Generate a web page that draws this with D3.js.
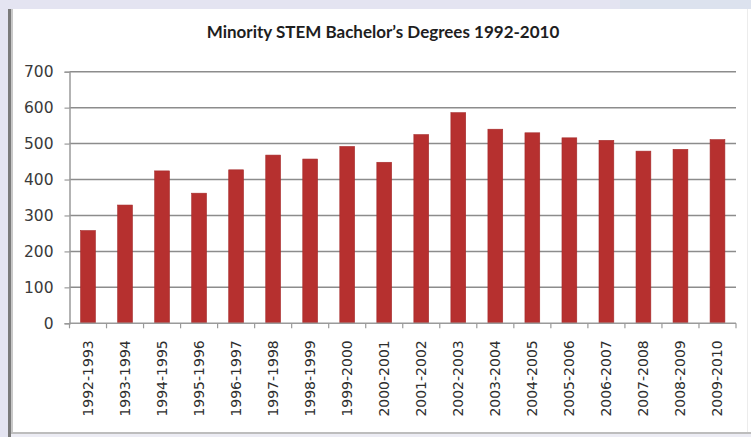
<!DOCTYPE html>
<html>
<head>
<meta charset="utf-8">
<script src="https://cdn.jsdelivr.net/npm/d3@7"></script>
<style>
  html, body { margin: 0; padding: 0; background: #e4e4f1; }
  svg { display: block; }
</style>
</head>
<body>
<svg id="chart" width="751" height="437"></svg>
<script>
// Academic years and the number of STEM bachelor's degrees earned by minority students
const categories = [
  "1992-1993", "1993-1994", "1994-1995", "1995-1996", "1996-1997", "1997-1998",
  "1998-1999", "1999-2000", "2000-2001", "2001-2002", "2002-2003", "2003-2004",
  "2004-2005", "2005-2006", "2006-2007", "2007-2008", "2008-2009", "2009-2010"
];
const degrees = [258, 329, 424, 362, 427, 468, 457, 492, 448, 525, 586, 540, 530, 516, 509, 479, 484, 511];
const yTicks = [0, 100, 200, 300, 400, 500, 600, 700];
const title = "Minority STEM Bachelor\u2019s Degrees 1992-2010";

const svg = d3.select("#chart");
const W = 751, H = 437;

// slide-like frame: lavender band, dark left rule, white chart area
const bg = svg.append("g");
bg.append("rect").attr("x", 0).attr("y", 0).attr("width", W).attr("height", H).attr("fill", "#e4e4f1");
bg.append("rect").attr("x", 620).attr("y", 0).attr("width", 131).attr("height", 10).attr("fill", "#dce2ee");
bg.append("rect").attr("x", 9).attr("y", 9).attr("width", W - 9).attr("height", 424).attr("fill", "#ffffff");
bg.append("rect").attr("x", 8).attr("y", 9).attr("width", 3).attr("height", H - 9).attr("fill", "#7a7a7a");
bg.append("rect").attr("x", 11).attr("y", 9).attr("width", 2).attr("height", H - 9).attr("fill", "#c8c8c8");
bg.append("rect").attr("x", 11).attr("y", 432).attr("width", W - 11).attr("height", 2).attr("fill", "#bdbdbd");
bg.append("rect").attr("x", 11).attr("y", 434).attr("width", W - 11).attr("height", 3).attr("fill", "#ececf4");
bg.append("rect").attr("x", 747).attr("y", 9).attr("width", 1).attr("height", 423).attr("fill", "#ececec");

const margin = { left: 69.5, right: 736, top: 71.7, bottom: 323.3 };

const x = d3.scaleBand()
  .domain(categories)
  .range([margin.left, margin.right])
  .paddingInner(0.6)
  .paddingOuter(0.3);

const y = d3.scaleLinear()
  .domain([0, 700])
  .range([margin.bottom, margin.top]);

// horizontal gridlines
svg.append("g")
  .selectAll("line")
  .data(yTicks.filter(d => d > 0))
  .join("line")
  .attr("x1", margin.left)
  .attr("x2", margin.right)
  .attr("y1", d => y(d))
  .attr("y2", d => y(d))
  .attr("stroke", "#8c8c8c")
  .attr("stroke-width", 1.5);

// bars
svg.append("g")
  .selectAll("rect")
  .data(categories.map((c, i) => ({ c, v: degrees[i] })))
  .join("rect")
  .attr("x", d => x(d.c))
  .attr("y", d => y(d.v))
  .attr("width", x.bandwidth())
  .attr("height", d => y(0) - y(d.v))
  .attr("fill", "#b6302f")
  .attr("stroke", "#a52a2a")
  .attr("stroke-width", 0.6);

// y axis
const yAxis = svg.append("g")
  .attr("transform", `translate(${margin.left},0)`)
  .call(d3.axisLeft(y).tickValues(yTicks).tickSize(5).tickPadding(11));
yAxis.select(".domain").attr("stroke", "#9a9a9a").attr("stroke-width", 1.5);
yAxis.selectAll(".tick line").attr("stroke", "#9a9a9a").attr("stroke-width", 1.2);
yAxis.selectAll("text")
  .attr("fill", "#3a3a3a")
  .style("font-family", "'DejaVu Sans', sans-serif")
  .style("font-size", "15.5px");

// x axis: ticks sit on category boundaries
const xAxisG = svg.append("g").attr("transform", `translate(0,${margin.bottom})`);
xAxisG.append("line")
  .attr("x1", margin.left).attr("x2", margin.right)
  .attr("y1", 0).attr("y2", 0)
  .attr("stroke", "#9a9a9a").attr("stroke-width", 1.5);
const edges = d3.range(categories.length + 1).map(i => margin.left + i * x.step());
xAxisG.selectAll("line.tk")
  .data(edges)
  .join("line")
  .attr("class", "tk")
  .attr("x1", d => d).attr("x2", d => d)
  .attr("y1", 0).attr("y2", 5)
  .attr("stroke", "#9a9a9a").attr("stroke-width", 1.2);
xAxisG.selectAll("text")
  .data(categories)
  .join("text")
  .attr("transform", d => `translate(${x(d) + x.bandwidth() / 2 + 5},17) rotate(-90)`)
  .attr("text-anchor", "end")
  .attr("fill", "#2e2e2e")
  .style("font-family", "'DejaVu Sans', sans-serif")
  .style("font-size", "14px")
  .text(d => d);

// title
svg.append("text")
  .attr("x", 383)
  .attr("y", 38)
  .attr("text-anchor", "middle")
  .attr("fill", "#1e1e1e")
  .style("font-family", "Lato, 'Open Sans', sans-serif")
  .style("font-weight", "bold")
  .style("font-size", "17px")
  .text(title);
</script>
</body>
</html>
